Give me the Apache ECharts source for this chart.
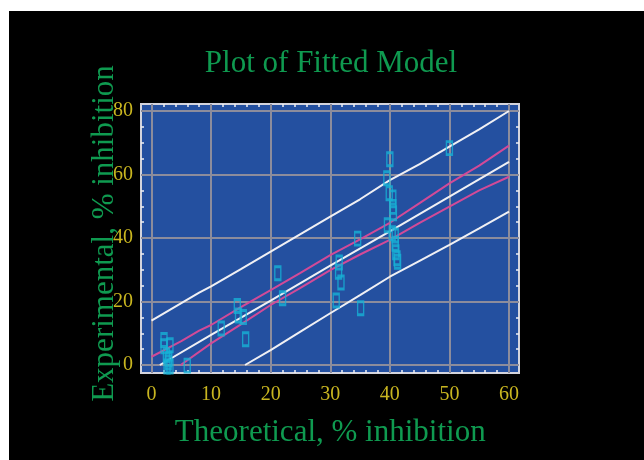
<!DOCTYPE html>
<html><head><meta charset="utf-8">
<script src="https://cdn.jsdelivr.net/npm/echarts@6/dist/echarts.min.js"></script>
<style>html,body{margin:0;padding:0;background:#fff;}#c{width:644px;height:460px;}</style>
</head><body><div id="c"></div>
<script>
var xTicks = [0, 10, 20, 30, 40, 50, 60];
var yTicks = [0, 20, 40, 60, 80];
var observed = [
  [2.1, 7.9], [2.1, 5.9], [3.1, 6.2], [2.5, 3.1], [2.9, 1.8], [2.8, 0.8], [2.6, -0.5], [3.1, -0.5], [6.0, -0.2],
  [11.7, 11.5], [14.4, 18.6], [14.6, 15.6], [15.4, 15.1], [15.8, 8.1], [21.2, 28.9], [22.0, 21.0],
  [31.5, 32.3], [31.4, 29.4], [31.8, 26.0], [31.0, 20.3], [35.1, 17.9], [34.6, 39.8],
  [40.0, 64.8], [39.5, 58.8], [39.9, 54.1], [40.5, 52.8], [40.5, 49.8], [40.6, 47.8], [39.6, 44.0],
  [40.4, 41.5], [40.9, 40.8], [40.9, 38.2], [41.0, 35.5], [41.2, 33.6], [41.3, 32.5], [50.0, 68.3]
];
var fitted = [[1.4, 0], [10, 9.5], [20, 20.3], [30, 31.3], [40, 42.1], [50, 53.0], [60, 64.0]];
var upperPred = [[0, 14.0], [5, 19.5], [8, 22.8], [10, 24.8], [15, 30.2], [20, 35.7], [25, 41.2], [30, 46.7], [35, 52.2], [40, 58.2], [45, 63.3], [50, 68.8], [55, 74.2], [60, 80.0]];
var lowerPred = [[15.7, 0], [20, 4.7], [25, 10.5], [30, 16.3], [35, 22.0], [40, 27.8], [45, 32.8], [50, 37.8], [55, 43.0], [60, 48.3]];
var upperConf = [[0, 2.6], [5, 7.5], [8, 10.8], [10, 12.6], [15, 18.2], [20, 23.6], [25, 29.0], [30, 34.6], [35, 39.6], [40, 44.8], [45, 51.0], [50, 57.2], [55, 62.8], [60, 69.1]];
var lowerConf = [[4.9, 0], [10, 6.8], [15, 12.8], [20, 18.9], [25, 24.3], [30, 29.9], [35, 34.8], [40, 39.4], [45, 44.8], [50, 49.9], [55, 55.0], [60, 59.3]];

var serif = 'Liberation Serif';
var green = '#0f9a50';
var yellow = '#c9b620';
var gridGrey = '#8c8c9c';
var white = '#f0f0f4';
var magenta = '#d24a98';

var chart = echarts.init(document.getElementById('c'));
function tickAxis(pos, offset, split, show) {
  return {
    type: 'value', position: pos, offset: offset,
    axisLine: {show: false, onZero: false},
    axisTick: {show: true, inside: true, length: offset, lineStyle: {color: gridGrey, width: 2}},
    minorTick: {show: true, splitNumber: split, length: 3, lineStyle: {color: white, width: 1.5}},
    splitLine: {show: false}, minorSplitLine: {show: false},
    axisLabel: {show: show}
  };
}
var xBottom = tickAxis('bottom', 8, 5, true);
Object.assign(xBottom, {min: xTicks[0], max: xTicks[xTicks.length - 1], interval: 10,
  splitLine: {show: true, lineStyle: {color: gridGrey, width: 2}},
  axisLabel: {color: yellow, fontFamily: serif, fontSize: 20, margin: 12},
  name: 'Theoretical, % inhibition', nameLocation: 'middle', nameGap: 44, nameMoveOverlap: false,
  nameTextStyle: {color: green, fontFamily: serif, fontSize: 31}});
var xTop = tickAxis('top', 7, 5, false);
Object.assign(xTop, {min: 0, max: 60, interval: 10});
var yLeft = tickAxis('left', 10.5, 4, true);
Object.assign(yLeft, {min: yTicks[0], max: yTicks[yTicks.length - 1], interval: 20,
  splitLine: {show: true, lineStyle: {color: gridGrey, width: 2}},
  axisLabel: {color: yellow, fontFamily: serif, fontSize: 20, margin: 8},
  name: 'Experimental, % inhibition', nameLocation: 'middle', nameGap: 21, nameRotate: 90, nameMoveOverlap: false,
  nameTextStyle: {color: green, fontFamily: serif, fontSize: 31, padding: [0, 0, 0, 9]}});
var yRight = tickAxis('right', 10, 4, false);
Object.assign(yRight, {min: 0, max: 80, interval: 20});

function line(d, c) {
  return {type: 'line', data: d, showSymbol: false, symbol: 'none', smooth: false, clip: false,
    lineStyle: {color: c, width: 2}, silent: true, animation: false, z: 3};
}
chart.setOption({
  animation: false,
  backgroundColor: 'transparent',
  graphic: [
    {type: 'rect', z: -100, shape: {x: 9, y: 11, width: 635, height: 449}, style: {fill: '#000'}},
    {type: 'rect', z: -50, shape: {x: 141, y: 104, width: 378, height: 269}, style: {fill: '#2450a0', stroke: '#d4d4dc', lineWidth: 2}}
  ],
  title: {text: 'Plot of Fitted Model', left: 331, top: 48, textAlign: 'center', padding: 0,
    textStyle: {color: green, fontFamily: serif, fontSize: 31, fontWeight: 'normal'}},
  grid: {left: 151.5, right: 135, top: 111, bottom: 95, containLabel: false},
  xAxis: [xBottom, xTop],
  yAxis: [yLeft, yRight],
  series: [
    line(upperPred, white), line(lowerPred, white), line(fitted, white),
    line(upperConf, magenta), line(lowerConf, magenta),
    {type: 'scatter', data: observed, symbol: 'rect', symbolSize: [6, 13], clip: false, z: 4,
      itemStyle: {color: 'rgba(0,0,0,0)', borderColor: '#16b2d6', borderWidth: 2}}
  ]
});
</script></body></html>
